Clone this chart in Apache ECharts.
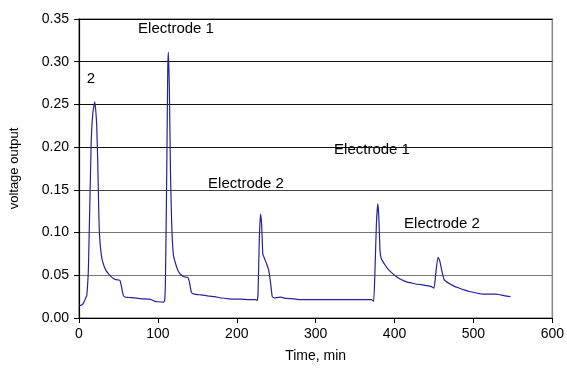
<!DOCTYPE html>
<html><head><meta charset="utf-8">
<script src="https://cdn.jsdelivr.net/npm/echarts@6/dist/echarts.min.js"></script>
<style>html,body{margin:0;padding:0;background:#fff}#c{width:567px;height:368px}</style>
</head><body><div id="c"></div>
<script>
const timeMin = [0,3,6,9,10,12,15.4,17.5,20,21.5,22.5,23.7,25,26,28,30,34,40,46,50,52,54,56,58,63,70,80,88,92,96,100,107,108.5,
109.5,111,112.5,113.3,114.5,116,117.5,119.5,122,126,130,134,138,140,142.5,146,155,163,172,180,190,197,205,215,224,226,
227,228.5,230,231.5,233,235,238,240.5,243,245,248,252,256,262,272,280,300,330,360,371,373.5,
375,377,378.8,380,381.5,383,388,392,397,403,409,416,422,428,434,440,446,450,452,455,457,460,463,470,476,482,488,495,505,512,520,528,532,540,547];
const voltage = [0.0147,0.015,0.018,0.0245,0.027,0.06,0.205,0.24,0.253,0.24,0.224,0.185,0.127,0.097,0.076,0.066,0.056,0.049,0.045,0.0445,0.044,0.036,0.027,0.0245,0.024,0.0235,0.0225,0.022,0.0214,0.0195,0.019,0.0185,0.02,
0.04,0.15,0.29,0.311,0.27,0.17,0.11,0.075,0.065,0.0545,0.05,0.048,0.0475,0.042,0.03,0.028,0.027,0.026,0.025,0.0234,0.0225,0.0222,0.0222,0.0214,0.0214,0.0205,
0.03,0.09,0.1215,0.11,0.075,0.07,0.063,0.056,0.04,0.025,0.0234,0.024,0.0245,0.023,0.0225,0.0214,0.0214,0.0214,0.0214,0.0214,0.0195,
0.05,0.11,0.1335,0.12,0.08,0.07,0.062,0.057,0.0525,0.048,0.0447,0.042,0.041,0.0395,0.039,0.038,0.037,0.035,0.05,0.071,0.068,0.055,0.0447,0.04,0.037,0.035,0.033,0.031,0.029,0.028,0.028,0.028,0.0275,0.026,0.025];
const annotations = [
  {text:'2', x:91, y:79},
  {text:'Electrode 1', x:176, y:29},
  {text:'Electrode 2', x:246, y:184},
  {text:'Electrode 1', x:372, y:150},
  {text:'Electrode 2', x:442, y:224}
];
const chart = echarts.init(document.getElementById('c'), null, {renderer:'canvas'});
const font = 'Liberation Sans, Arial, sans-serif';
chart.setOption({
  animation:false,
  grid:{left:76, right:13, top:19, bottom:50, show:true, borderColor:'#888', borderWidth:1.5},
  xAxis:{type:'value', min:0, max:600, interval:100, name:'Time, min', nameLocation:'middle', nameGap:31,
    nameTextStyle:{color:'#000', fontSize:14, fontFamily:font},
    axisLine:{onZero:false, lineStyle:{color:'#000', width:1.2}},
    axisTick:{show:true, length:5, lineStyle:{color:'#000'}},
    axisLabel:{color:'#000', fontSize:14, fontFamily:font, margin:9},
    splitLine:{show:false}},
  yAxis:{type:'value', min:0, max:0.35, interval:0.05, name:'voltage output', nameLocation:'middle', nameGap:58,
    nameTextStyle:{color:'#000', fontSize:13, fontFamily:font},
    axisLine:{show:true, lineStyle:{color:'#000', width:1.2}},
    axisTick:{show:true, length:5, lineStyle:{color:'#000'}},
    axisLabel:{color:'#000', fontSize:14, fontFamily:font, margin:10, formatter:v=>v.toFixed(2)},
    splitLine:{show:true, lineStyle:{color:['#000','#777','#777','#444','#111','#111','#111','#000'], width:1}}},
  series:[{type:'line', data:timeMin.map((t,i)=>[t,voltage[i]]), showSymbol:false, smooth:0.15,
    lineStyle:{color:'#23239c', width:1.2}}],
  graphic: annotations.map(a=>({type:'text', x:a.x, y:a.y, style:{text:a.text, fill:'#000', font:'15px '+font, textAlign:'center', textVerticalAlign:'middle'}}))
});
</script></body></html>
